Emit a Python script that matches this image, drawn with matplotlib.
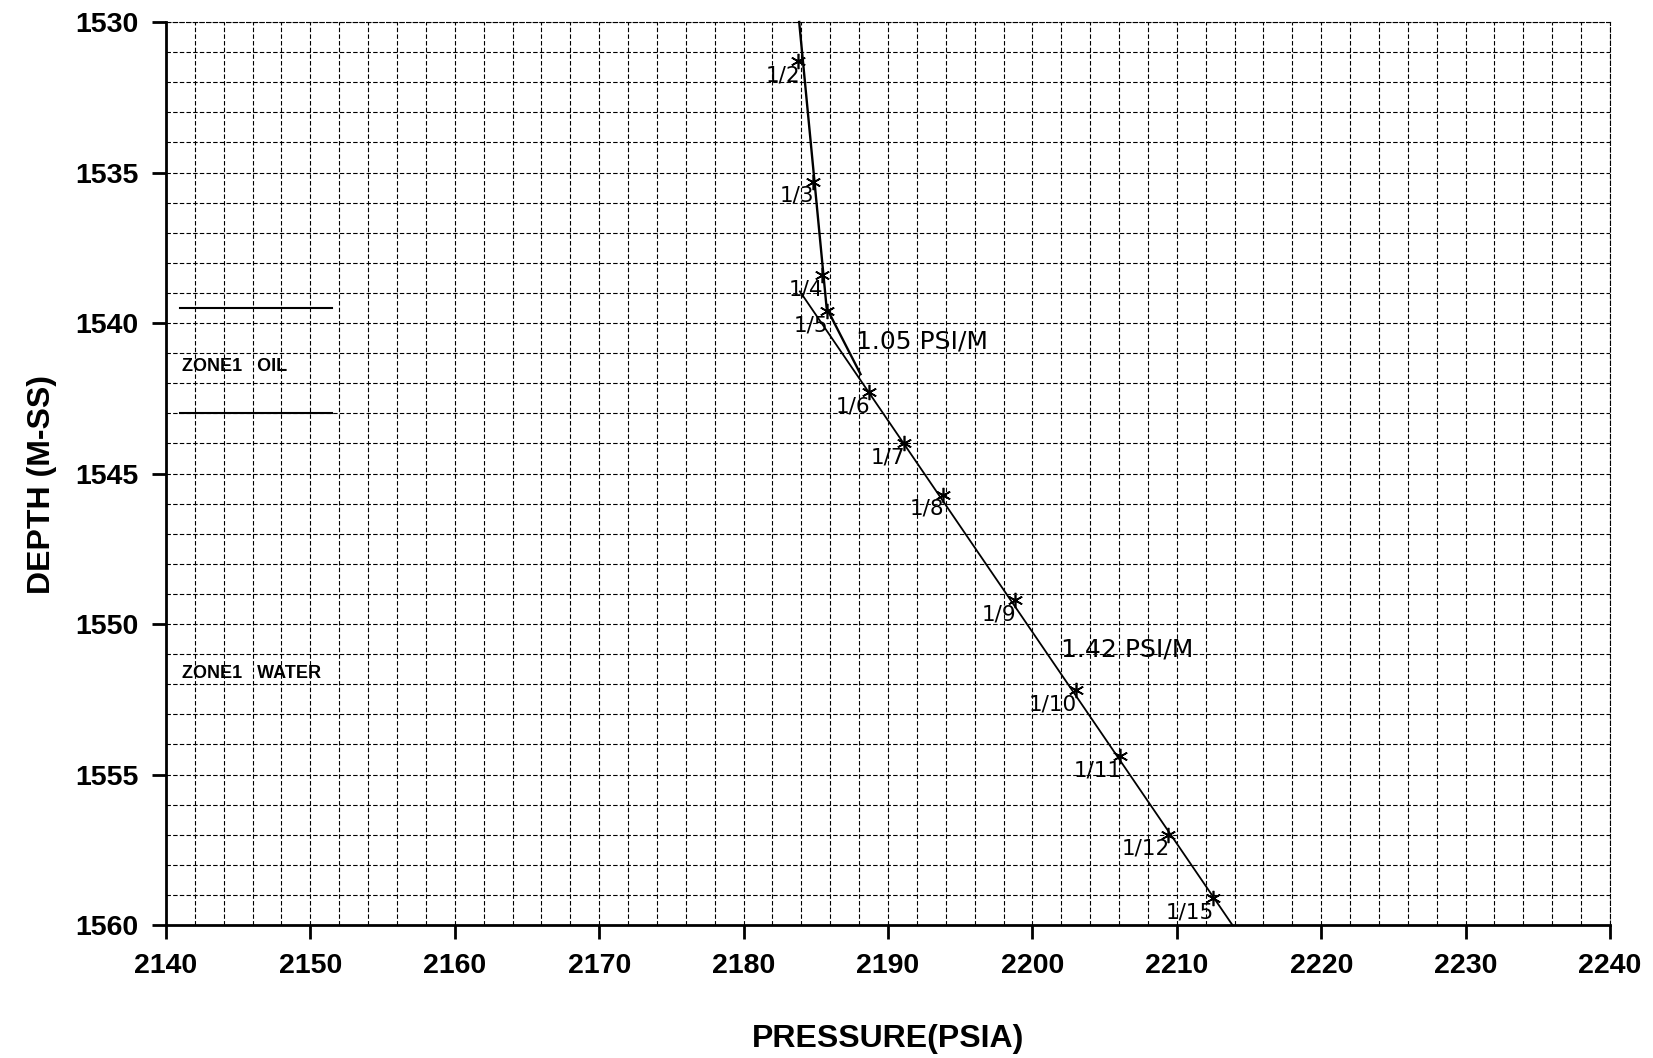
import matplotlib.pyplot as plt
from matplotlib.ticker import MultipleLocator

# RFT pressure points: pressure (psia) vs depth (m-ss)
test_labels = ['1/2', '1/3', '1/4', '1/5', '1/6', '1/7', '1/8', '1/9',
               '1/10', '1/11', '1/12', '1/15']
pressure = [2183.8, 2184.8, 2185.4, 2185.8, 2188.7, 2191.1, 2193.8, 2198.8,
            2203.0, 2206.1, 2209.4, 2212.5]
depth = [1531.3, 1535.3, 1538.4, 1539.6, 1542.3, 1544.0, 1545.7, 1549.2,
         1552.2, 1554.4, 1557.0, 1559.1]

# fitted gradient lines
upper_p = [2183.85, 2185.75, 2188.1]
upper_d = [1530.0, 1539.5, 1541.7]
water_p = [2183.9, 2213.85]
water_d = [1538.95, 1560.0]

# zone markers drawn on the left side
zone_x = [2141.0, 2151.5]
oil_top = 1539.5
oil_base = 1543.0

fig = plt.figure(figsize=(16.53, 10.58), dpi=100)
ax = fig.add_axes([0.1004, 0.1257, 0.8736, 0.8535])

ax.set_xlim(2140, 2240)
ax.set_ylim(1560, 1530)

ax.xaxis.set_major_locator(MultipleLocator(10))
ax.xaxis.set_minor_locator(MultipleLocator(2))
ax.yaxis.set_major_locator(MultipleLocator(5))
ax.yaxis.set_minor_locator(MultipleLocator(1))

dash = (0, (4, 2))
ax.grid(which='both', color='black', linestyle=dash, linewidth=0.8)
ax.set_axisbelow(True)

for side in ['left', 'bottom']:
    ax.spines[side].set_linewidth(2)
for side in ['top', 'right']:
    ax.spines[side].set_linestyle(dash)
    ax.spines[side].set_linewidth(0.8)

ax.tick_params(which='major', length=10, width=2, pad=10)
ax.tick_params(which='minor', length=0)
for lab in ax.get_xticklabels() + ax.get_yticklabels():
    lab.set_fontfamily('Liberation Sans')
    lab.set_fontweight('bold')
    lab.set_fontsize(20.5)

# gradient lines
ax.plot(upper_p, upper_d, color='black', lw=1.7, clip_on=False)
ax.plot(water_p, water_d, color='black', lw=1.3, clip_on=False)

# test points
ax.plot(pressure, depth, linestyle='none', marker=(6, 2, 0), markersize=11,
        markeredgewidth=1.2, color='black')
for p, d, t in zip(pressure, depth, test_labels):
    ax.annotate(t, (p, d), xytext=(1, -3), textcoords='offset points',
                ha='right', va='top', fontsize=15.5, family='DejaVu Sans')

ax.text(2187.8, 1540.6, '1.05 PSI/M', fontsize=18, va='center', ha='left')
ax.text(2202.0, 1550.85, '1.42 PSI/M', fontsize=18, va='center', ha='left')

# zone boundaries and names
ax.plot(zone_x, [oil_top, oil_top], color='black', lw=1.5)
ax.plot(zone_x, [oil_base, oil_base], color='black', lw=1.5)
ax.text(2141.1, 1541.45, 'ZONE1   OIL', fontsize=13, fontweight='bold',
        family='Liberation Sans', va='center', ha='left')
ax.text(2141.1, 1551.65, 'ZONE1   WATER', fontsize=13, fontweight='bold',
        family='Liberation Sans', va='center', ha='left')

fig.text(888 / 1653, 1 - 1039 / 1058, 'PRESSURE(PSIA)', ha='center',
         va='center', fontsize=23, fontweight='bold', family='Liberation Sans')
fig.text(42 / 1653, 1 - 485 / 1058, 'DEPTH (M-SS)', ha='center',
         va='center', rotation=90, fontsize=23, fontweight='bold',
         family='Liberation Sans')

fig.savefig('out.png', dpi=100)
